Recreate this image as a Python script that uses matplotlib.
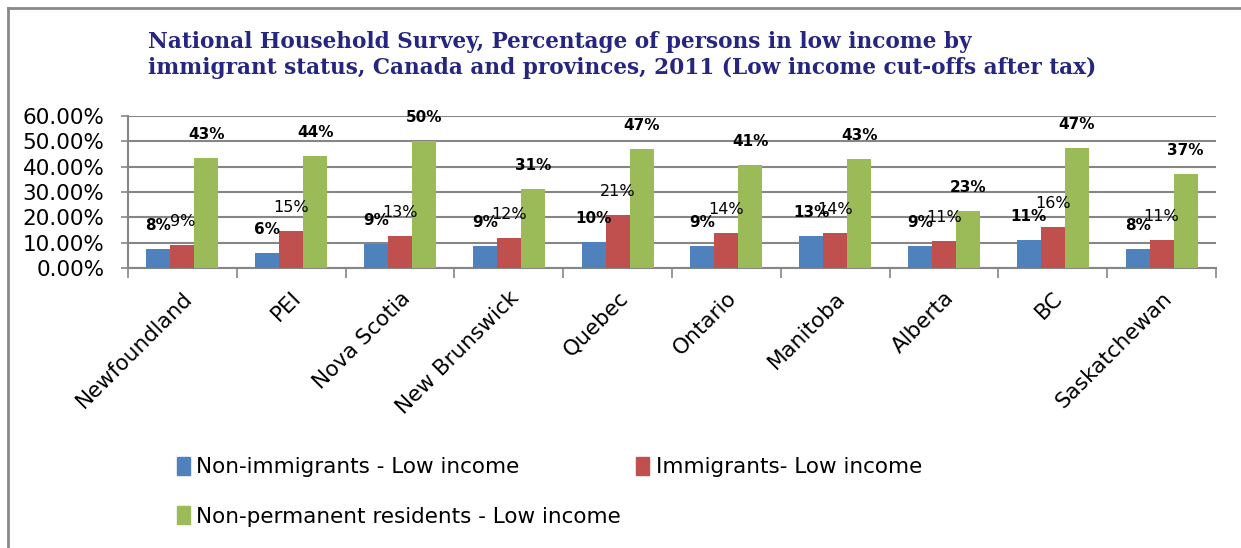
import matplotlib
matplotlib.use("Agg")
import matplotlib.pyplot as plt
from matplotlib.patches import Patch
from matplotlib.lines import Line2D
import numpy as np

provinces = ["Newfoundland", "PEI", "Nova Scotia", "New Brunswick", "Quebec",
             "Ontario", "Manitoba", "Alberta", "BC", "Saskatchewan"]
non_immigrants = [0.077, 0.059, 0.094, 0.086, 0.102, 0.089, 0.127, 0.086, 0.111, 0.076]
immigrants = [0.092, 0.148, 0.128, 0.118, 0.210, 0.138, 0.140, 0.106, 0.161, 0.110]
non_permanent = [0.432, 0.442, 0.500, 0.312, 0.469, 0.406, 0.429, 0.226, 0.472, 0.372]
series_names = ["Non-immigrants - Low income", "Immigrants- Low income",
                "Non-permanent residents - Low income"]
colors = ["#4F81BD", "#C0504D", "#9BBB59"]

title = ("National Household Survey, Percentage of persons in low income by\n"
         "immigrant status, Canada and provinces, 2011 (Low income cut-offs after tax)")

W, H = 1241, 548
fig = plt.figure(figsize=(W / 100, H / 100), dpi=100)
ax = fig.add_axes([128 / W, 1 - 268.3 / H, (1216 - 128) / W, (268.3 - 115.7) / H])

x = np.arange(len(provinces))
bw = 0.22
series = [non_immigrants, immigrants, non_permanent]
offsets = [-bw, 0, bw]
for vals, off, col in zip(series, offsets, colors):
    ax.bar(x + off, vals, width=bw, color=col, zorder=3)

# data labels
for vals, off, weight, size in zip(series, offsets, ["bold", "normal", "bold"], [11, 11.5, 11]):
    for xi, v in zip(x, vals):
        ax.annotate(f"{v:.0%}", (xi + off, v), xytext=(0, 17), textcoords="offset points",
                    ha="center", va="center", fontsize=size, fontweight=weight,
                    color="black", zorder=5)

ax.set_xlim(-0.5, len(provinces) - 0.5)
ax.set_ylim(0, 0.6)
ax.set_yticks(np.arange(0, 0.61, 0.1))
ax.set_yticklabels([f"{t:.2%}" for t in np.arange(0, 0.61, 0.1)], fontsize=15.5)
ax.yaxis.grid(True, color="#868686", linewidth=1.5, zorder=0)
ax.tick_params(axis="y", length=5, width=1.2, color="#868686", pad=12)

ax.set_xticks(x)
ax.set_xticklabels(provinces, rotation=45, ha="right", rotation_mode="anchor", fontsize=15.5)
ax.tick_params(axis="x", which="major", length=0, pad=14)
ax.set_xticks(np.arange(-0.5, len(provinces)), minor=True)
ax.tick_params(axis="x", which="minor", length=7, width=1.2, color="#868686", direction="out")

for side in ["top", "right"]:
    ax.spines[side].set_visible(False)
for side in ["left", "bottom"]:
    ax.spines[side].set_color("#868686")
    ax.spines[side].set_linewidth(1.5)

fig.text(148 / W, 1 - 31 / H, title, ha="left", va="top", fontsize=15.6,
         fontweight="bold", family="DejaVu Serif", color="#262680", linespacing=1.25)

# outer frame (cut by the page)
fig.add_artist(Line2D([8 / W, 8 / W], [0, 1 - 8 / H], color="#8a8a8a", linewidth=2,
                      transform=fig.transFigure))
fig.add_artist(Line2D([8 / W, 1], [1 - 8 / H, 1 - 8 / H], color="#8a8a8a", linewidth=2,
                      transform=fig.transFigure))

handles = [Patch(color=c, label=n) for c, n in zip(colors, series_names)]
order = [0, 2, 1]
fig.legend([handles[i] for i in order], [series_names[i] for i in order],
           ncol=2, loc="upper left", bbox_to_anchor=(177 / W, 1 - 457 / H),
           frameon=False, fontsize=15.5, borderpad=0, borderaxespad=0,
           handlelength=0.6, handleheight=0.9, handletextpad=0.3,
           labelspacing=1.35, columnspacing=0.7)

fig.savefig("out.png", dpi=100, facecolor="white")
